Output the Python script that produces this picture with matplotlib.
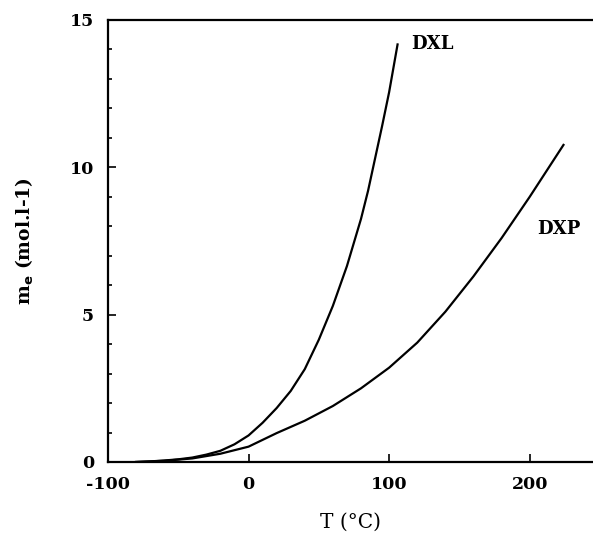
import matplotlib
matplotlib.use("Agg")
import matplotlib.pyplot as plt
from matplotlib.ticker import MultipleLocator

# values
dxl_t = [-80, -70, -60, -50, -40, -30, -20, -10, 0, 10, 20, 30, 40, 50, 60, 70, 80, 85, 90, 95, 100, 106]
dxl_m = [0.0, 0.02, 0.05, 0.09, 0.15, 0.25, 0.38, 0.6, 0.9, 1.33, 1.83, 2.41, 3.15, 4.15, 5.3, 6.65, 8.25, 9.2, 10.3, 11.4, 12.55, 14.17]

dxp_t = [-80, -60, -40, -20, 0, 20, 40, 60, 80, 100, 120, 140, 160, 180, 200, 224]
dxp_m = [0.0, 0.04, 0.12, 0.28, 0.52, 0.98, 1.4, 1.9, 2.5, 3.2, 4.05, 5.1, 6.3, 7.6, 9.0, 10.76]

x_ticks = [-100, 0, 100, 200]
y_ticks = [0, 5, 10, 15]

plt.rcParams['font.family'] = ['DejaVu Serif']
plt.rcParams['axes.unicode_minus'] = False

fig = plt.figure(figsize=(5.93, 5.37), dpi=100)
ax = fig.add_axes([0.182, 0.1397, 0.818, 0.8231])

ax.plot(dxl_t, dxl_m, color='black', lw=1.6)
ax.plot(dxp_t, dxp_m, color='black', lw=1.6)

ax.set_xlim(-100, 245)
ax.set_ylim(0, 15)
ax.set_xticks(x_ticks)
ax.set_yticks(y_ticks)
ax.yaxis.set_minor_locator(MultipleLocator(1))
ax.tick_params(which='both', direction='in', labelsize=12.5, width=1.2)
ax.tick_params(which='major', length=6, pad=10)
ax.tick_params(which='minor', length=3)
for lab in ax.get_xticklabels() + ax.get_yticklabels():
    lab.set_fontweight('bold')

ax.spines['right'].set_visible(False)
for s in ['left', 'bottom', 'top']:
    ax.spines[s].set_linewidth(1.6)

ax.text(116, 14.2, 'DXL', fontsize=13, fontweight='bold', va='center')
ax.text(205, 7.9, 'DXP', fontsize=13, fontweight='bold', va='center')

ax.set_xlabel('T (°C)', fontsize=14.5, labelpad=14)
ax.set_ylabel(r'm$_\mathbf{e}$ (mol.l-1)', fontsize=13.5, fontweight='bold', labelpad=24)

fig.savefig('out.png', dpi=100)
